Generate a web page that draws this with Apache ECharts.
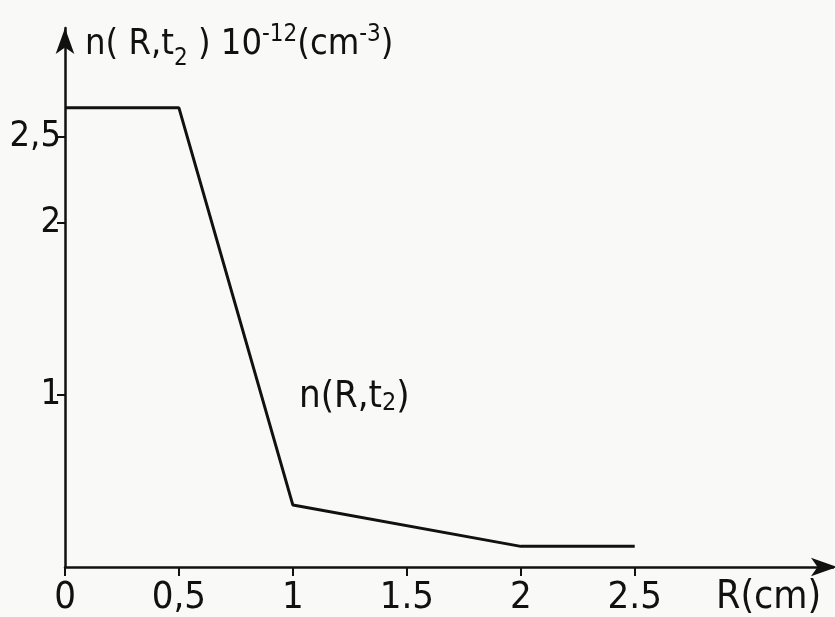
<!DOCTYPE html>
<html><head><meta charset="utf-8">
<script src="https://cdn.jsdelivr.net/npm/echarts@6/dist/echarts.min.js"></script>
<style>html,body{margin:0;padding:0;background:#f9f9f8;}#c{width:835px;height:617px;}</style>
</head><body><div id="c"></div>
<script>
// Data
const rValues = [0, 0.5, 1, 2, 2.5];          // R (cm)
const nValues = [2.67, 2.67, 0.36, 0.12, 0.12]; // n(R,t2) * 1e-12 (cm^-3)
const xTickValues = [0, 0.5, 1, 1.5, 2, 2.5];
const xTickLabels = ['0', '0,5', '1', '1.5', '2', '2.5'];
const yTickValues = [1, 2, 2.5];
const yTickLabels = ['1', '2', '2,5'];

const FONT = '"DejaVu Sans Condensed","DejaVu Sans",sans-serif';
const chart = echarts.init(document.getElementById('c'), null, {renderer: 'canvas'});
const labelMap = (vals, labs) => v => { const i = vals.findIndex(t => Math.abs(t - v) < 1e-9); return i >= 0 ? labs[i] : ''; };

chart.setOption({
  backgroundColor: '#f9f9f8',
  animation: false,
  grid: {left: 65, right: 2, top: 28, bottom: 50, containLabel: false},
  title: {
    left: 80, top: 18,
    text: '{a|n( R,t}{sub|2}{a| ) 10}{sup|-12}{a|(cm}{sup|-3}{a|)}',
    textStyle: {
      fontWeight: 'normal',
      rich: {
        a: {fontFamily: FONT, fontSize: 36, fontWeight: 'normal', color: '#111', verticalAlign: 'bottom', lineHeight: 40},
        sub: {fontFamily: FONT, fontSize: 24, fontWeight: 'normal', color: '#111', padding: [0, 0, -8, 0], verticalAlign: 'bottom', lineHeight: 40},
        sup: {fontFamily: FONT, fontSize: 24, fontWeight: 'normal', color: '#111', padding: [0, 0, 16, 0], verticalAlign: 'bottom', lineHeight: 40}
      }
    }
  },
  graphic: [
    {type: 'text', left: 299, top: 378, style: {rich: {
      a: {fontFamily: FONT, fontSize: 38, fill: '#111'},
      sub: {fontFamily: FONT, fontSize: 25, fill: '#111', padding: [0, 0, -12, 0]}
    }, text: '{a|n(R,t}{sub|2}{a|)}'}},
    {type: 'text', left: 716, top: 578, style: {text: 'R(cm)', fontFamily: FONT, fontSize: 39, fill: '#111'}}
  ],
  xAxis: {
    type: 'value', min: 0, max: 3.37,
    axisLine: {show: true, lineStyle: {color: '#111', width: 2.5}, symbol: ['none', 'arrow'], symbolSize: [14, 26], symbolOffset: [0, 4]},
    axisTick: {show: true, customValues: xTickValues, length: 9, lineStyle: {color: '#111', width: 2}},
    axisLabel: {show: true, customValues: xTickValues, formatter: labelMap(xTickValues, xTickLabels), fontFamily: FONT, fontSize: 38, color: '#111', margin: 12},
    splitLine: {show: false}
  },
  yAxis: {
    type: 'value', min: 0, max: 3.134,
    axisLine: {show: true, lineStyle: {color: '#111', width: 2.5}, symbol: ['none', 'arrow'], symbolSize: [14, 26]},
    axisTick: {show: true, customValues: yTickValues, length: 8, lineStyle: {color: '#111', width: 2}},
    axisLabel: {show: true, customValues: yTickValues, formatter: labelMap(yTickValues, yTickLabels), fontFamily: FONT, fontSize: 36, color: '#111', margin: 4},
    splitLine: {show: false}
  },
  series: [{
    type: 'line',
    data: rValues.map((r, i) => [r, nValues[i]]),
    showSymbol: false,
    lineStyle: {color: '#111', width: 3},
    silent: true
  }]
});
</script></body></html>
